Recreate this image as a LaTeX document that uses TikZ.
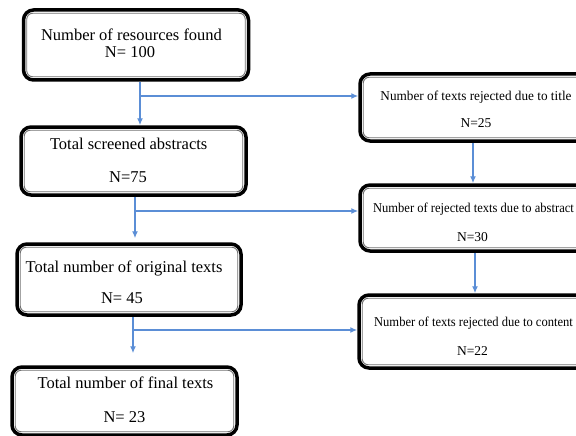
\documentclass[tikz,border=0pt]{standalone}
\usepackage{fontspec}
\usepackage{graphicx}
\setmainfont{Liberation Serif}
\usetikzlibrary{arrows.meta}
\definecolor{arrblue}{HTML}{5B8ED6}
\newcommand\innerframe[1]{\draw[innerline] ([shift={(5pt,-5pt)}]#1.north west) rectangle ([shift={(-5pt,5pt)}]#1.south east);}
\begin{document}
\begin{tikzpicture}[x=1pt,y=-1pt,
  boxframe/.style={draw=black, line width=3.5pt, rounded corners=10pt, fill=white, inner sep=0pt},
  innerline/.style={draw=black!55, line width=0.9pt, rounded corners=6pt},
  bigtxt/.style={anchor=base, inner sep=0pt, font=\fontsize{16.5}{19}\selectfont},
  smalltxt/.style={anchor=base, inner sep=0pt, font=\fontsize{13.5}{16}\selectfont},
  arr/.style={draw=arrblue, line width=1.5pt, -{Latex[length=7pt,width=6pt]}},
  lin/.style={draw=arrblue, line width=1.5pt}]
\useasboundingbox (0,0) rectangle (576,436);
\fill[white] (0,0) rectangle (576,436);
% left boxes
\node[boxframe, minimum width=225, minimum height=70] (b1) at (136,45) {};
\node[boxframe, minimum width=225, minimum height=68] (b2) at (133.5,161) {};
\node[boxframe, minimum width=224, minimum height=71] (b3) at (129,279.5) {};
\node[boxframe, minimum width=225, minimum height=68] (b4) at (124.5,401) {};
% right boxes
\node[boxframe, minimum width=234, minimum height=67] (r1) at (477,107.5) {};
\node[boxframe, minimum width=234, minimum height=66] (r2) at (477,218) {};
\node[boxframe, minimum width=235, minimum height=73] (r3) at (476.5,331.5) {};
\innerframe{b1}\innerframe{b2}\innerframe{b3}\innerframe{b4}
\innerframe{r1}\innerframe{r2}\innerframe{r3}
% texts
\node[bigtxt] (t1a) at (131.5,41) {Number of resources found};
\node[bigtxt] (t1b) at (130,58) {N= 100};
\node[bigtxt] (t2a) at (128.7,149) {Total screened abstracts};
\node[bigtxt] (t2b) at (128,182) {N=75};
\node[bigtxt] (t3a) at (124,272) {Total number of original texts};
\node[bigtxt] (t3b) at (122,303) {N= 45};
\node[bigtxt] (t4a) at (125.5,388) {Total number of final texts};
\node[bigtxt] (t4b) at (124.5,422) {N= 23};
\node[smalltxt] (u1a) at (476,101) {\scalebox{0.98}[1]{Number of texts rejected due to title}};
\node[smalltxt] (u1b) at (476,128) {N=25};
\node[smalltxt] (u2a) at (473.5,212) {\scalebox{0.93}[1]{Number of rejected texts due to abstract}};
\node[smalltxt] (u2b) at (472.5,241) {N=30};
\node[smalltxt] (u3a) at (473.5,326) {\scalebox{0.93}[1]{Number of texts rejected due to content}};
\node[smalltxt] (u3b) at (472.5,355) {N=22};
% connectors
\coordinate (s1) at ([xshift=4pt]b1.south);
\draw[arr] (s1) -- (s1 |- b2.north);
\coordinate (j1) at (140,96);
\draw[arr] (j1) -- (j1 -| r1.west);
\coordinate (s2) at ([xshift=1.5pt]b2.south);
\draw[arr] (s2) -- ([yshift=4pt]s2 |- b3.north);
\coordinate (j2) at (135,211);
\draw[arr] (j2) -- (j2 -| r2.west);
\coordinate (s3) at ([xshift=4pt]b3.south);
\draw[arr] (s3) -- ([yshift=12pt]s3 |- b4.north);
\coordinate (j3) at (133,330);
\draw[arr] (j3) -- (j3 -| r3.west);
\coordinate (v1) at ([xshift=-4pt]r1.south);
\draw[arr] (v1) -- (v1 |- r2.north);
\coordinate (v2) at ([xshift=-2pt]r2.south);
\draw[arr] (v2) -- (v2 |- r3.north);
\end{tikzpicture}
\end{document}
